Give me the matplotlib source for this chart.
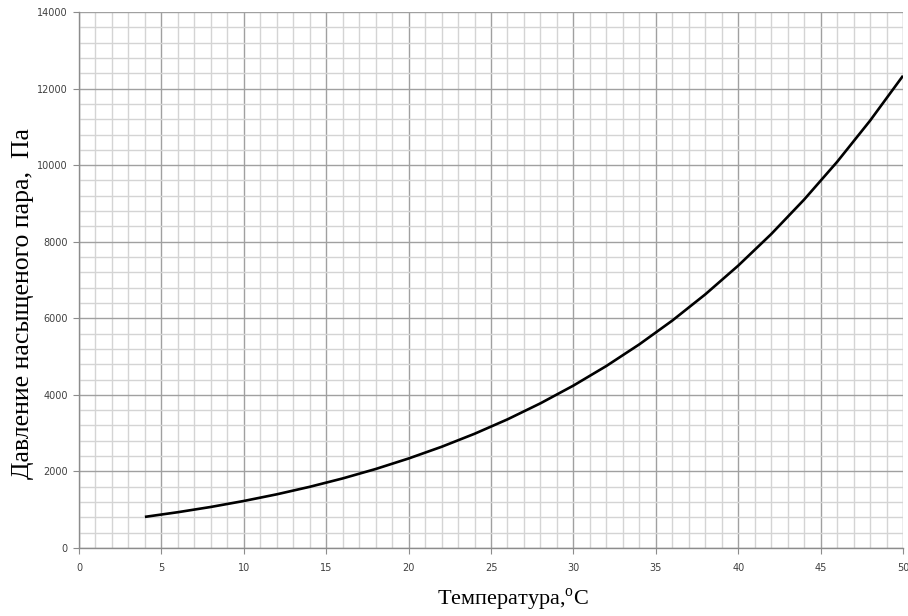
import matplotlib
matplotlib.use("Agg")
import matplotlib.pyplot as plt
from matplotlib.ticker import MultipleLocator

plt.rcParams["mathtext.fontset"] = "custom"
plt.rcParams["mathtext.rm"] = "Liberation Serif"

temperature = [4, 6, 8, 10, 12, 14, 16, 18, 20, 22, 24, 26, 28, 30, 32, 34, 36, 38, 40, 42, 44, 46, 48, 50]
pressure = [813, 935, 1072, 1228, 1402, 1598, 1817, 2063, 2338, 2643, 2983, 3360, 3779, 4242,
            4754, 5319, 5940, 6624, 7375, 8198, 9100, 10085, 11161, 12335]
x_label = "Температура,$^{\\mathrm{o}}$C"
y_label = "Давление насыщеного пара,  Па"

fig = plt.figure(figsize=(9.08, 6.16), dpi=100)
ax = fig.add_axes([0.087, 0.1104, 0.9075, 0.8701])

ax.set_xlim(0, 50)
ax.set_ylim(0, 14000)
ax.xaxis.set_major_locator(MultipleLocator(5))
ax.xaxis.set_minor_locator(MultipleLocator(1))
ax.yaxis.set_major_locator(MultipleLocator(2000))
ax.yaxis.set_minor_locator(MultipleLocator(400))

ax.grid(which="minor", color="#d4d4d4", linewidth=1.0)
ax.grid(which="major", color="#a0a0a0", linewidth=1.0)
ax.set_axisbelow(True)

for s in ["top", "right"]:
    ax.spines[s].set_visible(False)
for s in ["left", "bottom"]:
    ax.spines[s].set_color("#8c8c8c")
    ax.spines[s].set_linewidth(1.0)

ax.tick_params(which="major", direction="out", length=4, color="#8c8c8c",
               labelsize=7, labelcolor="#404040")
ax.tick_params(which="minor", length=0)
ax.tick_params(axis="x", pad=7)
ax.tick_params(axis="y", pad=4)

ax.plot(temperature, pressure, color="black", linewidth=1.9, solid_capstyle="butt")

serif = ["Liberation Serif", "DejaVu Serif"]
ax.set_xlabel(x_label, family=serif, fontsize=16)
ax.set_ylabel(y_label, family=serif, fontsize=18.5)
ax.xaxis.set_label_coords(0.527, -0.072)
ax.yaxis.set_label_coords(-0.068, 0.457)
ax.yaxis.label.set_va("center")

fig.savefig("out.png", dpi=100)
